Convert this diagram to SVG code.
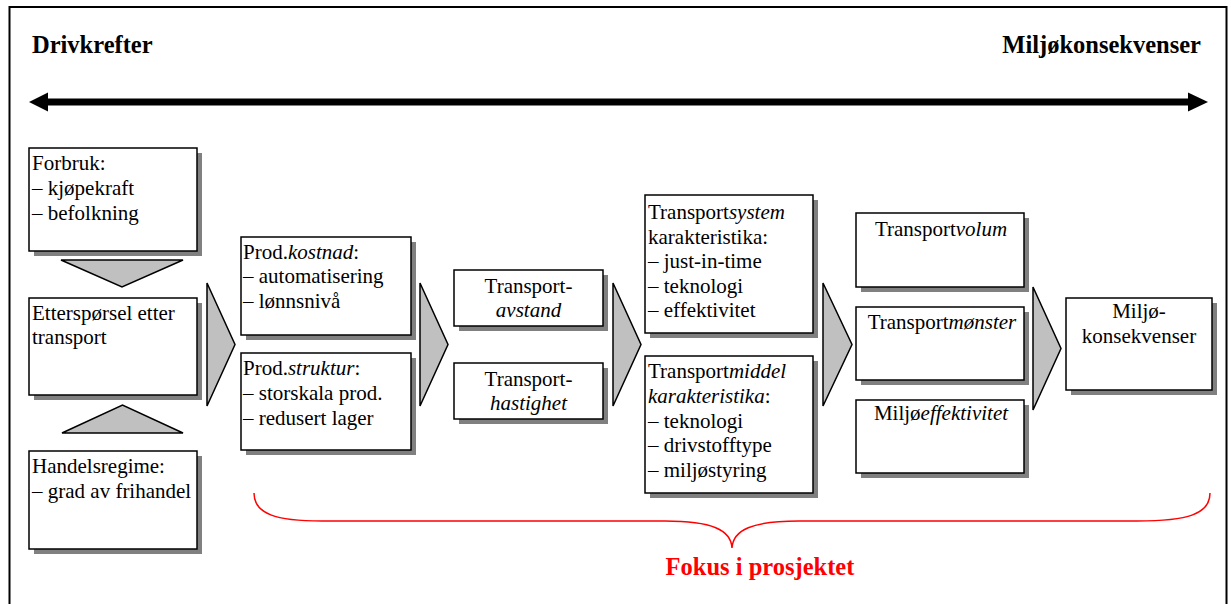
<svg xmlns="http://www.w3.org/2000/svg" width="1231" height="604" viewBox="0 0 1231 604" font-family="'Liberation Serif', 'Times New Roman', Times, serif">
<style>
text{font-family:'Liberation Serif', 'Times New Roman', Times, serif;font-size:21px;fill:#000}
.h{font-size:24.5px;font-weight:bold}
.c{text-anchor:middle}
.i{font-style:italic}
.box{fill:#fff;stroke:#000;stroke-width:1.5}
.sh{fill:#808080}
.chev{fill:#c0c0c0;stroke:#000;stroke-width:1.5;stroke-linejoin:miter}
.focus{fill:#ff0000;font-size:24.5px;font-weight:bold}
</style>
<rect x="0" y="0" width="1231" height="604" fill="#fff"/>
<rect x="9.5" y="7" width="1217" height="610" fill="none" stroke="#000" stroke-width="2"/>
<text class="h" x="32" y="53" font-family="Liberation Serif">Drivkrefter</text>
<text class="h" x="1201" y="53" text-anchor="end" font-family="Liberation Serif">Miljøkonsekvenser</text>
<g id="connectors">
<line x1="45" y1="102" x2="1192" y2="102" stroke="#000" stroke-width="7"/>
<polygon points="29,102 48,92.5 48,111.5" fill="#000"/>
<polygon points="1208,102 1188,92.5 1188,111.5" fill="#000"/>
<polygon class="chev" points="61,260 183,260 122,287"/>
<polygon class="chev" points="62,433 183,433 122.5,405"/>
<polygon class="chev" points="207,283 235,344.5 207,406"/>
<polygon class="chev" points="420,283 448,344.5 420,406"/>
<polygon class="chev" points="613,283 641,344.5 613,406"/>
<polygon class="chev" points="823,283 852,344.5 823,406"/>
<polygon class="chev" points="1033,287 1061,348.5 1033,410"/>
</g>
<g id="forbruk" font-family="Liberation Serif">
<rect class="sh" x="34" y="153" width="168" height="103"/>
<rect class="box" x="29" y="148" width="168" height="103"/>
<text x="32" y="170">Forbruk:</text>
<text x="32" y="195">– kjøpekraft</text>
<text x="32" y="220">– befolkning</text>
</g>
<g id="ettersporsel" font-family="Liberation Serif">
<rect class="sh" x="34" y="303" width="168" height="97"/>
<rect class="box" x="29" y="298" width="168" height="97"/>
<text x="32" y="320">Etterspørsel etter</text>
<text x="32" y="344">transport</text>
</g>
<g id="handelsregime" font-family="Liberation Serif">
<rect class="sh" x="34" y="456" width="168" height="98"/>
<rect class="box" x="29" y="451" width="168" height="98"/>
<text x="32" y="473">Handelsregime:</text>
<text x="32" y="498">– grad av frihandel</text>
</g>
<g id="prodkostnad" font-family="Liberation Serif">
<rect class="sh" x="246" y="242" width="170" height="98"/>
<rect class="box" x="241" y="237" width="170" height="98"/>
<text x="243" y="259">Prod.<tspan class="i">kostnad</tspan>:</text>
<text x="243" y="283">– automatisering</text>
<text x="243" y="308">– lønnsnivå</text>
</g>
<g id="prodstruktur" font-family="Liberation Serif">
<rect class="sh" x="246" y="358" width="170" height="97"/>
<rect class="box" x="241" y="353" width="170" height="97"/>
<text x="243" y="375">Prod.<tspan class="i">struktur</tspan>:</text>
<text x="243" y="400">– storskala prod.</text>
<text x="243" y="425">– redusert lager</text>
</g>
<g id="avstand" font-family="Liberation Serif">
<rect class="sh" x="459" y="275" width="149" height="56"/>
<rect class="box" x="454" y="270" width="149" height="56"/>
<text class="c" x="528.5" y="293">Transport-</text>
<text class="c i" x="528.5" y="317">avstand</text>
</g>
<g id="hastighet" font-family="Liberation Serif">
<rect class="sh" x="459" y="368" width="149" height="56"/>
<rect class="box" x="454" y="363" width="149" height="56"/>
<text class="c" x="528.5" y="386">Transport-</text>
<text class="c i" x="528.5" y="410">hastighet</text>
</g>
<g id="transportsystem" font-family="Liberation Serif">
<rect class="sh" x="650" y="200" width="168" height="138"/>
<rect class="box" x="645" y="195" width="168" height="138"/>
<text x="648" y="219">Transport<tspan class="i">system</tspan></text>
<text x="648" y="244">karakteristika:</text>
<text x="648" y="268">– just-in-time</text>
<text x="648" y="293">– teknologi</text>
<text x="648" y="317">– effektivitet</text>
</g>
<g id="transportmiddel" font-family="Liberation Serif">
<rect class="sh" x="650" y="361" width="168" height="137"/>
<rect class="box" x="645" y="356" width="168" height="137"/>
<text x="648" y="378">Transport<tspan class="i">middel</tspan></text>
<text x="648" y="403"><tspan class="i">karakteristika</tspan>:</text>
<text x="648" y="428">– teknologi</text>
<text x="648" y="452">– drivstofftype</text>
<text x="648" y="477">– miljøstyring</text>
</g>
<g id="transportvolum" font-family="Liberation Serif">
<rect class="sh" x="861" y="218" width="168" height="74"/>
<rect class="box" x="856" y="213" width="168" height="74"/>
<text class="c" x="941" y="236">Transport<tspan class="i">volum</tspan></text>
</g>
<g id="transportmonster" font-family="Liberation Serif">
<rect class="sh" x="861" y="312" width="168" height="73"/>
<rect class="box" x="856" y="307" width="168" height="73"/>
<text class="c" x="942" y="329">Transport<tspan class="i">mønster</tspan></text>
</g>
<g id="miljoeffektivitet" font-family="Liberation Serif">
<rect class="sh" x="861" y="405" width="168" height="73"/>
<rect class="box" x="856" y="400" width="168" height="73"/>
<text class="c" x="941" y="420">Miljø<tspan class="i">effektivitet</tspan></text>
</g>
<g id="miljokonsekvenser" font-family="Liberation Serif">
<rect class="sh" x="1071" y="303" width="146" height="92"/>
<rect class="box" x="1066" y="298" width="146" height="92"/>
<text class="c" x="1139" y="318">Miljø-</text>
<text class="c" x="1139" y="343">konsekvenser</text>
</g>
<g id="fokus">
<path d="M254,493 C254,514 276,521 322,521 L665,521 C712,521 731,530 732,548 C733,530 752,521 799,521 L1137,521 C1188,521 1210,514 1210,493" fill="none" stroke="#ff0000" stroke-width="1.5"/>
<text class="c focus" x="760" y="575">Fokus i prosjektet</text>
</g>
</svg>
